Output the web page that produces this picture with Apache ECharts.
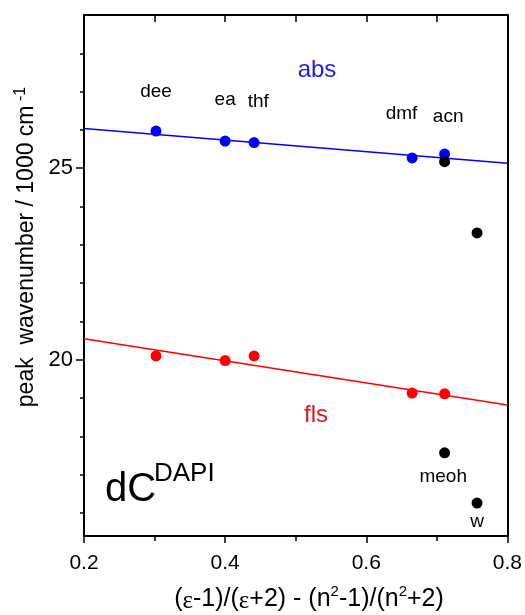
<!DOCTYPE html>
<html>
<head>
<meta charset="utf-8">
<title>dC DAPI solvatochromism</title>
<script src="https://cdn.jsdelivr.net/npm/echarts@6/dist/echarts.min.js"></script>
<style>
  html, body { margin: 0; padding: 0; background: #fff; }
  #chart { width: 525px; height: 615px; }
</style>
</head>
<body>
<div id="chart"></div>
<script>
// Aprotic solvents: orientation polarizability vs. peak wavenumbers (10^3 cm^-1)
const solventNames = ['dee', 'ea', 'thf', 'dmf', 'acn'];
const solventX = [0.302, 0.400, 0.441, 0.665, 0.711];
const absPeak = [25.97, 25.71, 25.67, 25.27, 25.37];
const flsPeak = [20.10, 19.98, 20.10, 19.13, 19.11];

// Protic solvents (methanol, water), excluded from the fits
const proticNames = ['meoh', 'w'];
const proticX = [0.711, 0.757];
const proticAbs = [25.17, 23.31];
const proticFls = [17.57, 16.26];

// Linear fits over the aprotic solvents
const fitX = [0.2, 0.8];
const absFitY = [26.04, 25.13];
const flsFitY = [20.55, 18.82];

// Solvent label anchors (data coordinates)
const labelNames = ['dee', 'ea', 'thf', 'dmf', 'acn', 'meoh', 'w'];
const labelX = [0.302, 0.400, 0.447, 0.650, 0.716, 0.709, 0.757];
const labelY = [26.99, 26.78, 26.74, 26.43, 26.35, 16.95, 15.77];

// Axis ticks
const xTopTicks = [0.3, 0.4, 0.5, 0.6, 0.7];
const yTickLabels = [20, 25];
const yMinorTicks = [16, 17, 18, 19, 20, 21, 22, 23, 24, 25, 26, 27, 28];

const FONT = "'Liberation Sans', Arial, Helvetica, sans-serif";
const SERIF = "'Liberation Serif', 'Times New Roman', serif";

const zip = (xs, ys) => xs.map((x, i) => [x, ys[i]]);

const chart = echarts.init(document.getElementById('chart'));

const lineAxis = { show: true, onZero: false, lineStyle: { color: '#000', width: 2 } };
const tickLine = { color: '#000', width: 1.5 };
const Y_MIN = 15.4, Y_MAX = 29;

chart.setOption({
  animation: false,
  textStyle: { fontFamily: FONT, color: '#000' },
  grid: { left: 84, right: 17, top: 15, bottom: 79, containLabel: false },
  xAxis: [
    {
      type: 'value', position: 'bottom', min: 0.2, max: 0.8, interval: 0.2,
      axisLine: lineAxis,
      axisTick: { show: true, length: 7, lineStyle: tickLine },
      minorTick: { show: true, splitNumber: 2, length: 5, lineStyle: tickLine },
      axisLabel: { margin: 17, color: '#000', fontSize: 21, fontFamily: FONT, formatter: v => v.toFixed(1) },
      splitLine: { show: false }
    },
    {
      // top frame with ticks pointing into the plot
      type: 'value', position: 'top', min: 0.2, max: 0.8, interval: 0.2,
      axisLine: lineAxis,
      axisTick: { show: true, inside: true, length: 7, customValues: xTopTicks, lineStyle: tickLine },
      axisLabel: { show: false },
      splitLine: { show: false }
    }
  ],
  yAxis: [
    {
      // data axis: left frame line only
      type: 'value', position: 'left', min: Y_MIN, max: Y_MAX,
      axisLine: lineAxis,
      axisTick: { show: false },
      axisLabel: { show: false },
      splitLine: { show: false }
    },
    {
      // short ticks at every unit
      type: 'value', position: 'left', min: Y_MIN, max: Y_MAX,
      axisLine: { show: false },
      axisTick: { show: true, length: 4, customValues: yMinorTicks, lineStyle: tickLine },
      axisLabel: { show: false },
      splitLine: { show: false }
    },
    {
      // right frame line
      type: 'value', position: 'right', min: Y_MIN, max: Y_MAX,
      axisLine: lineAxis,
      axisTick: { show: false },
      axisLabel: { show: false },
      splitLine: { show: false }
    },
    {
      // labelled major ticks
      type: 'value', position: 'left', min: Y_MIN, max: Y_MAX,
      axisLine: { show: false },
      axisTick: { show: true, length: 8, customValues: yTickLabels, lineStyle: tickLine },
      axisLabel: { show: true, customValues: yTickLabels, margin: 11, color: '#000', fontSize: 22, fontFamily: FONT },
      splitLine: { show: false }
    }
  ],
  series: [
    {
      name: 'abs fit', type: 'line', data: zip(fitX, absFitY),
      showSymbol: false, symbol: 'none', z: 2,
      lineStyle: { color: '#0000ff', width: 1.5 }
    },
    {
      name: 'fls fit', type: 'line', data: zip(fitX, flsFitY),
      showSymbol: false, symbol: 'none', z: 2,
      lineStyle: { color: '#ff0000', width: 1.5 }
    },
    {
      name: 'abs', type: 'scatter', data: zip(solventX, absPeak),
      symbol: 'circle', symbolSize: 11, z: 3,
      itemStyle: { color: '#0000ff', opacity: 1 }
    },
    {
      name: 'fls', type: 'scatter', data: zip(solventX, flsPeak),
      symbol: 'circle', symbolSize: 11, z: 3,
      itemStyle: { color: '#ff0000', opacity: 1 }
    },
    {
      name: 'protic', type: 'scatter',
      data: zip(proticX, proticAbs).concat(zip(proticX, proticFls)),
      symbol: 'circle', symbolSize: 11, z: 4,
      itemStyle: { color: '#000', opacity: 1 }
    },
    {
      name: 'solvent labels', type: 'scatter',
      data: labelNames.map((n, i) => ({ name: n, value: [labelX[i], labelY[i]] })),
      symbolSize: 1, z: 5, silent: true,
      itemStyle: { color: 'rgba(0,0,0,0)' },
      label: {
        show: true, position: 'inside', formatter: p => p.name,
        color: '#000', opacity: 1, fontSize: 19, fontFamily: FONT
      }
    }
  ],
  graphic: [
    {
      type: 'text', x: 317, y: 70, silent: true,
      style: { text: 'abs', fill: '#1e1ee0', font: '24px ' + FONT, textAlign: 'center', textVerticalAlign: 'middle' }
    },
    {
      type: 'text', x: 316, y: 415, silent: true,
      style: { text: 'fls', fill: '#e8141c', font: '24px ' + FONT, textAlign: 'center', textVerticalAlign: 'middle' }
    },
    {
      type: 'text', x: 105, y: 490, silent: true,
      style: { text: 'dC', fill: '#000', font: '40px ' + FONT, textAlign: 'left', textVerticalAlign: 'middle' }
    },
    {
      type: 'text', x: 154, y: 474, silent: true,
      style: { text: 'DAPI', fill: '#000', font: '26px ' + FONT, textAlign: 'left', textVerticalAlign: 'middle' }
    },
    {
      type: 'text', x: 27, y: 247, rotation: Math.PI / 2, silent: true,
      style: {
        text: 'peak  wavenumber / 1000 cm{sup| -1}',
        fill: '#000', font: '23px ' + FONT, textAlign: 'center', textVerticalAlign: 'middle',
        rich: {
          sup: { fontSize: 16, fontFamily: FONT, lineHeight: 16, verticalAlign: 'top', fill: '#000' }
        },
        lineHeight: 29
      }
    },
    {
      type: 'text', x: 309, y: 599, silent: true,
      style: {
        text: '({e|ε}-1)/({e|ε}+2) - (n{s|2}-1)/(n{s|2}+2)',
        fill: '#000', font: '25px ' + FONT, textAlign: 'center', textVerticalAlign: 'middle',
        lineHeight: 30,
        rich: {
          e: { fontSize: 25, fontFamily: SERIF, lineHeight: 30, verticalAlign: 'bottom', fill: '#000' },
          s: { fontSize: 15, fontFamily: FONT, lineHeight: 15, verticalAlign: 'top', fill: '#000' }
        }
      }
    }
  ]
});
</script>
</body>
</html>
